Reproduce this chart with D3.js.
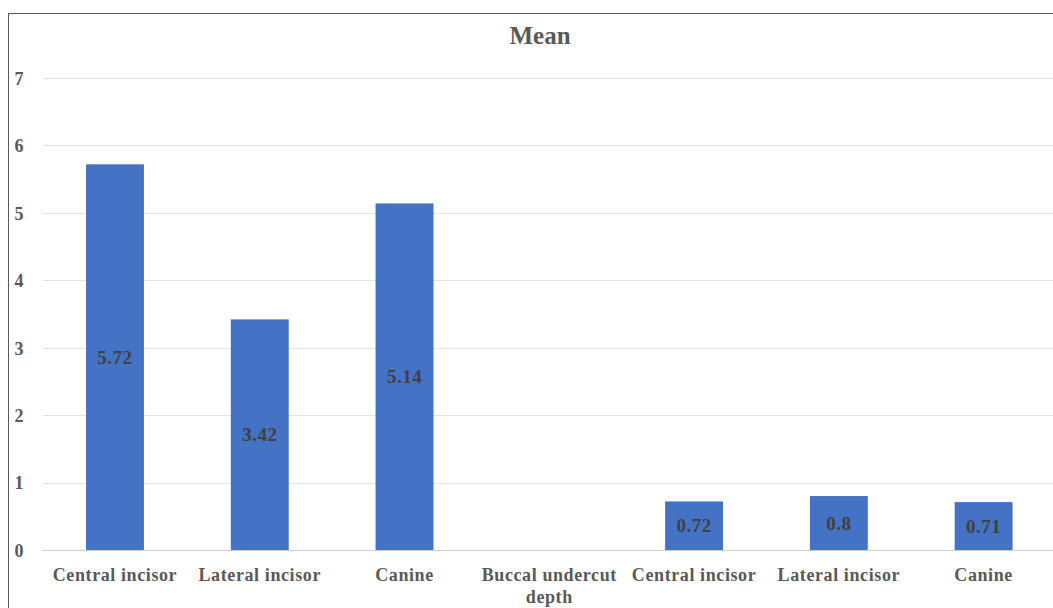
<!DOCTYPE html>
<html>
<head>
<meta charset="utf-8">
<script src="https://cdn.jsdelivr.net/npm/d3@7"></script>
<style>
  body { margin: 0; background: #fff; }
  svg { display: block; }
  text { font-family: "Liberation Serif", "Times New Roman", serif; font-weight: bold; }
</style>
</head>
<body>
<svg id="chart" width="1053" height="608"></svg>
<script>
// chart data
const categories = ["Central incisor", "Lateral incisor", "Canine", "Buccal undercut depth", "Central incisor ", "Lateral incisor ", "Canine "];
const meanValues = [5.72, 3.42, 5.14, null, 0.72, 0.8, 0.71];
const yTicks = [0, 1, 2, 3, 4, 5, 6, 7];

const width = 1053, height = 608;
const margin = {left: 42.6, right: -3, top: 78, bottom: 58};

const svg = d3.select("#chart");

// outer frame (runs off the right and bottom edge)
svg.append("rect")
    .attr("x", 8.5).attr("y", 13.5)
    .attr("width", 1060).attr("height", 620)
    .attr("fill", "#fff").attr("stroke", "#595959").attr("stroke-width", 1);

let x = d3.scaleBand()
    .domain(categories)
    .range([margin.left, width - margin.right])
    .paddingInner(0.6).paddingOuter(0.3);

let y = d3.scaleLinear()
    .domain([0, 7])
    .range([height - margin.bottom, margin.top]);

// gridlines
svg.append("g").selectAll("line").data(yTicks).join("line")
    .attr("x1", margin.left).attr("x2", width)
    .attr("y1", d => Math.round(y(d)) + 0.5).attr("y2", d => Math.round(y(d)) + 0.5)
    .attr("stroke", d => d === 0 ? "#d0d0d0" : "#e3e3e3")
    .attr("stroke-width", 1);

// y tick labels
let yg = svg.append("g").attr("transform", `translate(${margin.left - 16},0)`);
yg.call(d3.axisLeft(y).tickValues(yTicks).tickSize(0).tickFormat(d3.format("d")));
yg.select("path").remove();
yg.selectAll("text")
    .attr("font-family", null)
    .attr("font-size", "18px")
    .attr("fill", "#595959").attr("dy", "0.35em");

// bars
let barData = categories.map((c, i) => ({cat: c, value: meanValues[i]})).filter(d => d.value != null);

svg.append("g").selectAll("rect").data(barData).join("rect")
    .attr("x", d => x(d.cat))
    .attr("y", d => y(d.value))
    .attr("width", x.bandwidth())
    .attr("height", d => y(0) - y(d.value))
    .attr("fill", "#4472c4");

// data labels in the middle of the bars
svg.append("g").selectAll("text").data(barData).join("text")
    .attr("x", d => x(d.cat) + x.bandwidth() / 2)
    .attr("y", d => y(d.value / 2))
    .attr("dy", "0.35em")
    .attr("text-anchor", "middle")
    .attr("font-size", "19px")
    .attr("letter-spacing", "0.5px")
    .attr("fill", "#404040")
    .text(d => d.value);

// category labels (wrapped like the original)
let xg = svg.append("g").selectAll("text").data(categories).join("text")
    .attr("x", d => x(d) + x.bandwidth() / 2)
    .attr("y", y(0) + 31)
    .attr("text-anchor", "middle")
    .attr("font-size", "18px")
    .attr("letter-spacing", "0.6px")
    .attr("fill", "#595959");

xg.each(function (d) {
    let t = d3.select(this);
    let lines = d.trim() === "Buccal undercut depth" ? ["Buccal undercut", "depth"] : [d.trim()];
    lines.forEach((l, i) => {
        t.append("tspan").attr("x", t.attr("x")).attr("dy", i === 0 ? 0 : 22).text(l);
    });
});

// title
svg.append("text")
    .attr("x", 540).attr("y", 44)
    .attr("text-anchor", "middle")
    .attr("font-size", "25px")
    .attr("fill", "#595959")
    .text("Mean");
</script>
</body>
</html>
